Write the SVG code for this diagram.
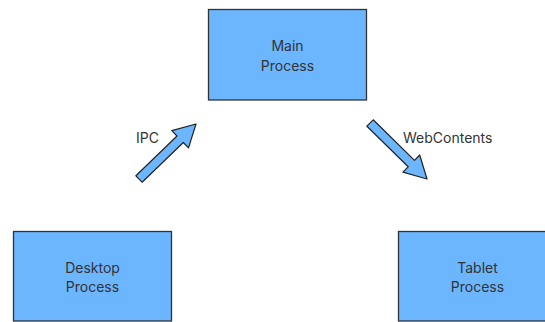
<svg xmlns="http://www.w3.org/2000/svg" width="545" height="322" viewBox="0 0 545 322">
<style>
.box{fill:#6cb6ff;stroke:#333;stroke-width:1.3}
.t{font-family:Inter,"Liberation Sans",sans-serif;font-size:14px;fill:#333;text-anchor:middle}
.arr{fill:#6cb6ff;stroke:#222;stroke-width:1.2;stroke-linejoin:round}
.lbl{font-family:Inter,"Liberation Sans",sans-serif;font-size:14px;fill:#333}
</style>
<rect width="545" height="322" fill="#fff"/>
<g id="main">
<rect class="box" x="208.5" y="9.5" width="158" height="90.5"/>
<text class="t" x="287.5" y="51">Main</text>
<text class="t" x="287.5" y="71">Process</text>
</g>
<g id="desktop">
<rect class="box" x="13.5" y="231.5" width="158" height="89.5"/>
<text class="t" x="92.5" y="273">Desktop</text>
<text class="t" x="92.5" y="292">Process</text>
</g>
<g id="tablet">
<rect class="box" x="398.5" y="231.5" width="158" height="89.5"/>
<text class="t" x="477.5" y="273">Tablet</text>
<text class="t" x="477.5" y="292">Process</text>
</g>
<g id="connectors">
<polygon class="arr" points="142.1,182.2 183.3,142.5 188.5,147.9 196,124 171.8,130.6 177,136 135.9,175.8"/>
<text class="lbl" x="136" y="143">IPC</text>
<polygon class="arr" points="366.9,126.2 408.2,166.8 402.9,172.1 427,179 419.7,155 414.5,160.4 373.2,119.8"/>
<text class="lbl" x="403" y="143">WebContents</text>
</g>
</svg>
